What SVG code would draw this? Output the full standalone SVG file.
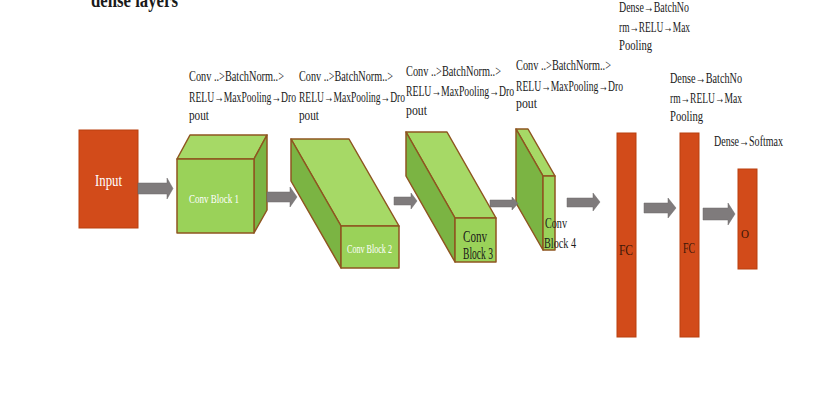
<svg xmlns="http://www.w3.org/2000/svg" width="813" height="402" viewBox="0 0 813 402">
<style>
  .lbl { font-family: "Liberation Serif", "DejaVu Serif", serif; font-size: 15px; fill: #1a1a1a; }
  .ttl { font-family: "Liberation Serif", "DejaVu Serif", serif; font-size: 22px; font-weight: bold; fill: #1a1a1a; }
  .wt { font-family: "Liberation Serif", "DejaVu Serif", serif; fill: #ffffff; }
  .dk { font-family: "Liberation Serif", "DejaVu Serif", serif; fill: #1a1a1a; }
  .fc { font-family: "Liberation Serif", "DejaVu Serif", serif; fill: #3a1608; }
  .org { fill: #D24B1A; stroke: #B9400F; stroke-width: 1; }
  .lt { fill: #A6D966; stroke: #8E5520; stroke-width: 1.5; stroke-linejoin: round; }
  .fr { fill: #9AD259; stroke: #8E5520; stroke-width: 1.5; stroke-linejoin: round; }
  .dkg { fill: #7BB443; stroke: #8E5520; stroke-width: 1.5; stroke-linejoin: round; }
  .arr { fill: #7F7B7C; stroke: #6d6a6b; stroke-width: 0.5; }
</style>
<rect width="813" height="402" fill="#ffffff"/>

<text class="ttl" x="91" y="7" textLength="87" lengthAdjust="spacingAndGlyphs">dense layers</text>

<g id="input">
  <rect class="org" x="79" y="130" width="59" height="98"/>
  <text class="wt" x="95" y="186" font-size="16" textLength="27" lengthAdjust="spacingAndGlyphs">Input</text>
</g>

<g id="block1">
  <polygon class="lt" points="177,159 190,135 267,135 254,159"/>
  <polygon class="dkg" points="254,159 267,135 267,210 254,233"/>
  <rect class="fr" x="177" y="159" width="77" height="74"/>
  <text class="wt" x="189" y="203" font-size="13" textLength="50" lengthAdjust="spacingAndGlyphs">Conv Block 1</text>
</g>

<g id="block2">
  <polygon class="lt" points="291,139 349,139 399,226 341,226"/>
  <polygon class="dkg" points="291,139 341,226 341,268 291,181"/>
  <rect class="fr" x="341" y="226" width="58" height="42"/>
  <text class="wt" x="347" y="253" font-size="12" textLength="45" lengthAdjust="spacingAndGlyphs">Conv Block 2</text>
</g>

<g id="block3">
  <polygon class="lt" points="406,132 447,132 496,218 455,218"/>
  <polygon class="dkg" points="406,132 455,218 455,262 406,176"/>
  <rect class="fr" x="455" y="218" width="41" height="44"/>
  <text class="dk" x="463" y="242" font-size="16" textLength="24" lengthAdjust="spacingAndGlyphs">Conv</text>
  <text class="dk" x="463" y="259" font-size="16" textLength="30" lengthAdjust="spacingAndGlyphs">Block 3</text>
</g>

<g id="block4">
  <polygon class="lt" points="516,129 528,129 555,176 543,176"/>
  <polygon class="dkg" points="516,129 543,176 543,250 516,203"/>
  <rect class="fr" x="543" y="176" width="12" height="74"/>
  <text class="dk" x="545" y="228" font-size="14" textLength="22" lengthAdjust="spacingAndGlyphs">Conv</text>
  <text class="dk" x="544" y="248" font-size="14" textLength="32" lengthAdjust="spacingAndGlyphs">Block 4</text>
</g>

<g id="fc1">
  <rect class="org" x="617" y="133" width="19" height="204"/>
  <text class="fc" x="619" y="255" font-size="14" textLength="14" lengthAdjust="spacingAndGlyphs">FC</text>
</g>

<g id="fc2">
  <rect class="org" x="680" y="133" width="19" height="204"/>
  <text class="fc" x="683" y="253" font-size="14" textLength="12" lengthAdjust="spacingAndGlyphs">FC</text>
</g>

<g id="output">
  <rect class="org" x="738" y="169" width="19" height="100"/>
  <text class="fc" x="741" y="238" font-size="13" textLength="8" lengthAdjust="spacingAndGlyphs">O</text>
</g>

<g id="connectors">
  <polygon class="arr" points="138,183 167,183 167,178 173,188.5 167,199 167,194 138,194"/>
  <polygon class="arr" points="267,192 290,192 290,187 297,197 290,207 290,202 267,202"/>
  <polygon class="arr" points="394,197 411,197 411,193 417,201 411,209 411,205 394,205"/>
  <polygon class="arr" points="490,200 512,200 512,197 518,203.5 512,210 512,207 490,207"/>
  <polygon class="arr" points="567,198 593,198 593,193 600,202 593,211 593,207 567,207"/>
  <polygon class="arr" points="644,203 668,203 668,198 676,208 668,218 668,213 644,213"/>
  <polygon class="arr" points="703,208 728,208 728,203 735,214 728,225 728,220 703,220"/>
</g>

<g id="labels">
  <text class="lbl" x="189" y="81" textLength="95" lengthAdjust="spacingAndGlyphs">Conv ..&gt;BatchNorm..&gt;</text>
  <text class="lbl" x="189" y="102" textLength="107" lengthAdjust="spacingAndGlyphs">RELU→MaxPooling→Dro</text>
  <text class="lbl" x="189" y="120" textLength="20" lengthAdjust="spacingAndGlyphs">pout</text>

  <text class="lbl" x="299" y="81" textLength="94" lengthAdjust="spacingAndGlyphs">Conv ..&gt;BatchNorm..&gt;</text>
  <text class="lbl" x="299" y="102" textLength="106" lengthAdjust="spacingAndGlyphs">RELU→MaxPooling→Dro</text>
  <text class="lbl" x="299" y="120" textLength="20" lengthAdjust="spacingAndGlyphs">pout</text>

  <text class="lbl" x="406" y="76" textLength="95" lengthAdjust="spacingAndGlyphs">Conv ..&gt;BatchNorm..&gt;</text>
  <text class="lbl" x="406" y="96" textLength="108" lengthAdjust="spacingAndGlyphs">RELU→MaxPooling→Dro</text>
  <text class="lbl" x="406" y="115" textLength="21" lengthAdjust="spacingAndGlyphs">pout</text>

  <text class="lbl" x="516" y="70" textLength="95" lengthAdjust="spacingAndGlyphs">Conv ..&gt;BatchNorm..&gt;</text>
  <text class="lbl" x="516" y="91" textLength="107" lengthAdjust="spacingAndGlyphs">RELU→MaxPooling→Dro</text>
  <text class="lbl" x="516" y="108" textLength="21" lengthAdjust="spacingAndGlyphs">pout</text>

  <text class="lbl" x="619" y="12" textLength="70" lengthAdjust="spacingAndGlyphs">Dense→BatchNo</text>
  <text class="lbl" x="619" y="32" textLength="71" lengthAdjust="spacingAndGlyphs">rm→RELU→Max</text>
  <text class="lbl" x="619" y="50" textLength="33" lengthAdjust="spacingAndGlyphs">Pooling</text>

  <text class="lbl" x="670" y="83" textLength="72" lengthAdjust="spacingAndGlyphs">Dense→BatchNo</text>
  <text class="lbl" x="670" y="103" textLength="72" lengthAdjust="spacingAndGlyphs">rm→RELU→Max</text>
  <text class="lbl" x="670" y="121" textLength="33" lengthAdjust="spacingAndGlyphs">Pooling</text>

  <text class="lbl" x="714" y="146" textLength="69" lengthAdjust="spacingAndGlyphs">Dense→Softmax</text>
</g>
</svg>
